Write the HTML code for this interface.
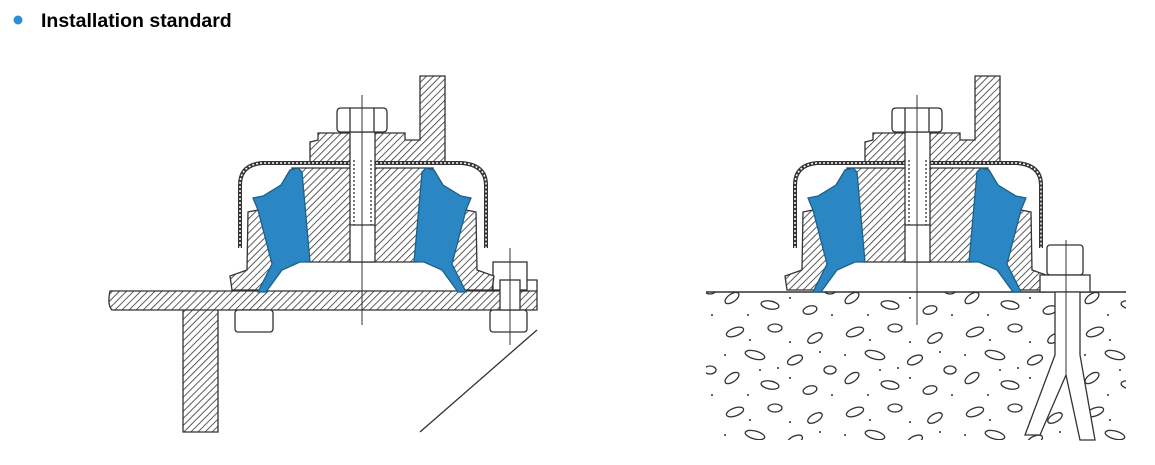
<!DOCTYPE html>
<html><head><meta charset="utf-8"><style>
html,body{margin:0;padding:0;background:#fff;width:1155px;height:465px;overflow:hidden}
</style></head><body>
<svg width="1155" height="465" viewBox="0 0 1155 465" xmlns="http://www.w3.org/2000/svg">
<defs>
<pattern id="h" width="5" height="5" patternUnits="userSpaceOnUse" patternTransform="rotate(45)">
<rect width="5" height="5" fill="#fff"/><line x1="0" y1="0" x2="0" y2="5" stroke="#333" stroke-width="1.6"/>
</pattern>
<pattern id="con" width="120" height="80" patternUnits="userSpaceOnUse">
<rect width="120" height="80" fill="#fff"/>
<g fill="none" stroke="#333" stroke-width="1.3">
<ellipse cx="15" cy="12" rx="9" ry="4" transform="rotate(-20 15 12)"/>
<ellipse cx="55" cy="8" rx="7" ry="4"/>
<ellipse cx="95" cy="18" rx="8" ry="4" transform="rotate(-30 95 18)"/>
<ellipse cx="35" cy="35" rx="10" ry="4" transform="rotate(15 35 35)"/>
<ellipse cx="75" cy="40" rx="8" ry="4" transform="rotate(-25 75 40)"/>
<ellipse cx="110" cy="50" rx="6" ry="4"/>
<ellipse cx="12" cy="58" rx="8" ry="4" transform="rotate(-35 12 58)"/>
<ellipse cx="50" cy="65" rx="9" ry="4" transform="rotate(10 50 65)"/>
<ellipse cx="90" cy="70" rx="7" ry="4" transform="rotate(-15 90 70)"/>
</g>
<g fill="#333">
<circle cx="30" cy="20" r="1"/><circle cx="70" cy="22" r="1"/><circle cx="5" cy="35" r="1"/>
<circle cx="58" cy="48" r="1"/><circle cx="100" cy="32" r="1"/><circle cx="28" cy="75" r="1"/>
<circle cx="70" cy="58" r="1"/><circle cx="112" cy="75" r="1"/><circle cx="40" cy="50" r="1"/>
</g>
</pattern>
<g id="mount" stroke="#333" stroke-width="1.3">
<path d="M420 76 H445 V162 H310 V142 L318 140 V133 H405 V140 H420 Z" fill="url(#h)"/>
<path d="M240 248 V185 Q240 165 262 163 H462 Q486 165 486 185 V248" fill="none" stroke-width="4"/>
<path d="M240 248 V185 Q240 165 262 163 H462 Q486 165 486 185 V248" fill="none" stroke="#fff" stroke-width="1.5" stroke-dasharray="2 2"/>
<path d="M292 168 H433 L417 262 H307 Z" fill="url(#h)"/>
<path d="M248 212 L258 210 L274 262 L262 290 H232 L230 276 L247 270 Z" fill="url(#h)"/>
<path d="M476 212 L466 210 L450 262 L462 290 H492 L494 276 L477 270 Z" fill="url(#h)"/>
<path d="M253 198 L263 196 L281 185 L290 170 L298 168 L302 172 L310 262 L300 262 L282 270 L266 292 L258 292 L272 264 L258 210 Z" fill="#2b87c3" stroke="#1d5f8a"/>
<path d="M471 198 L461 196 L443 185 L434 170 L426 168 L422 172 L414 262 L424 262 L442 270 L458 292 L466 292 L452 264 L466 210 Z" fill="#2b87c3" stroke="#1d5f8a"/>
<rect x="350" y="132" width="25" height="130" fill="#fff"/>
<line x1="354" y1="160" x2="354" y2="225" stroke-dasharray="2 2"/>
<line x1="371" y1="160" x2="371" y2="225" stroke-dasharray="2 2"/>
<line x1="350" y1="225" x2="375" y2="225"/>
<path d="M337 112 Q337 108 341 108 H383 Q387 108 387 112 V128 Q387 132 383 132 H341 Q337 132 337 128 Z" fill="#fff"/>
<line x1="350" y1="108" x2="350" y2="132"/><line x1="374" y1="108" x2="374" y2="132"/>
<line x1="362" y1="95" x2="362" y2="325" stroke-width="1"/>
</g>
</defs>

<circle cx="18" cy="20" r="4.5" fill="#2b90d9"/>
<text x="41" y="27" font-family="Liberation Sans, sans-serif" font-weight="bold" font-size="19.5" fill="#000">Installation standard</text>

<g stroke="#333" stroke-width="1.3">
<path d="M110 291 H537 V310 H218 V432 H183 V310 H112 Q107 305 110 291 Z" fill="url(#h)"/>
<line x1="183" y1="310" x2="218" y2="310"/>
<rect x="235" y="310" width="38" height="22" rx="3" fill="#fff"/>
<rect x="490" y="310" width="37" height="22" rx="3" fill="#fff"/>
<rect x="493" y="262" width="34" height="28" fill="#fff"/>
<rect x="500" y="280" width="20" height="30" fill="#fff"/>
<path d="M527 280 H537 V291" fill="none"/>
<line x1="537" y1="330" x2="420" y2="432"/>
<line x1="510" y1="248" x2="510" y2="345" stroke-width="1"/>
</g>
<use href="#mount"/>

<rect x="706" y="292" width="420" height="148" fill="url(#con)"/>
<line x1="706" y1="292" x2="1126" y2="292" stroke="#333" stroke-width="1.5"/>
<use href="#mount" transform="translate(555 0)"/>
<g stroke="#333" stroke-width="1.3" fill="#fff">
<rect x="1047" y="245" width="36" height="30" rx="3"/>
<rect x="1040" y="275" width="50" height="17"/>
<path d="M1055 292 V355 L1025 435 H1040 L1066 375 L1080 440 H1095 L1080 355 V292 Z"/>
<line x1="1066" y1="240" x2="1066" y2="375" stroke-width="1"/>
</g>
</svg>
</body></html>
